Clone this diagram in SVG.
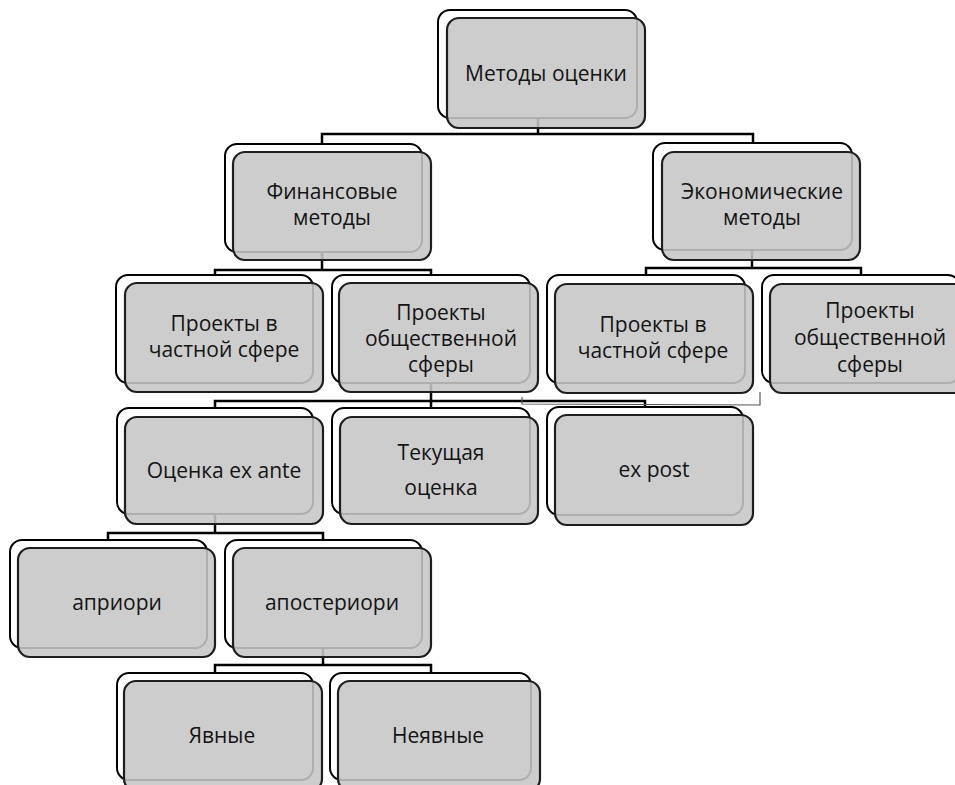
<svg xmlns="http://www.w3.org/2000/svg" width="955" height="785" viewBox="0 0 955 785">
<style>
.bk{fill:#fff;stroke:#000;stroke-width:2}
.fg{fill:#c6c6c6;fill-opacity:0.88;stroke:#1e1e1e;stroke-width:2.2}
.t{font-family:"Open Sans","Noto Sans","DejaVu Sans",sans-serif;font-size:21px;fill:#141414;text-anchor:middle}
.c{fill:none;stroke:#000;stroke-width:2.5}
.thin{fill:none;stroke:#555;stroke-width:1.2}
</style>
<rect width="955" height="785" fill="#fff"/>
<g id="connectors">
<path class="c" d="M538,118V134 M322,144V134H753V143"/>
<path class="c" d="M322,252V270 M215,275V270H431V275"/>
<path class="c" d="M752,250V268 M646,275V268H861V275"/>
<path class="c" d="M431,383V401 M215,408V401H645V408 M431,401V408"/>
<path class="thin" d="M522,397V404L760,405V392"/>
<path class="c" d="M215,514V533 M108,540V533H323V540"/>
<path class="c" d="M323,648V665 M215,673V665H431V673"/>
</g>
<g id="n1"><rect class="bk" x="438" y="10" width="199" height="108" rx="12"/><rect class="fg" x="447" y="18" width="198" height="110" rx="12"/><text class="t" x="546" y="81">Методы оценки</text></g>
<g id="n2"><rect class="bk" x="225" y="144" width="197" height="108" rx="12"/><rect class="fg" x="233" y="152" width="198" height="108" rx="12"/><text class="t" x="332" y="199">Финансовые</text><text class="t" x="332" y="225">методы</text></g>
<g id="n3"><rect class="bk" x="653" y="143" width="199" height="107" rx="12"/><rect class="fg" x="662" y="152" width="198" height="108" rx="12"/><text class="t" x="762" y="199">Экономические</text><text class="t" x="762" y="225">методы</text></g>
<g id="n4"><rect class="bk" x="116" y="275" width="197" height="108" rx="12"/><rect class="fg" x="125" y="283" width="198" height="109" rx="12"/><text class="t" x="224" y="331">Проекты в</text><text class="t" x="224" y="357">частной сфере</text></g>
<g id="n5"><rect class="bk" x="332" y="275" width="198" height="108" rx="12"/><rect class="fg" x="339" y="283" width="199" height="109" rx="12"/><text class="t" x="441" y="320">Проекты</text><text class="t" x="441" y="346">общественной</text><text class="t" x="441" y="372">сферы</text></g>
<g id="n6"><rect class="bk" x="547" y="275" width="198" height="108" rx="12"/><rect class="fg" x="555" y="284" width="198" height="109" rx="12"/><text class="t" x="653" y="332">Проекты в</text><text class="t" x="653" y="358">частной сфере</text></g>
<g id="n7"><rect class="bk" x="762" y="275" width="198" height="108" rx="12"/><rect class="fg" x="770" y="284" width="198" height="109" rx="12"/><text class="t" x="870" y="318">Проекты</text><text class="t" x="870" y="345">общественной</text><text class="t" x="870" y="372">сферы</text></g>
<g id="n8"><rect class="bk" x="117" y="408" width="196" height="106" rx="12"/><rect class="fg" x="125" y="417" width="198" height="107" rx="12"/><text class="t" x="224" y="478">Оценка ex ante</text></g>
<g id="n9"><rect class="bk" x="332" y="408" width="198" height="106" rx="12"/><rect class="fg" x="340" y="417" width="198" height="107" rx="12"/><text class="t" x="441" y="460">Текущая</text><text class="t" x="441" y="495">оценка</text></g>
<g id="n10"><rect class="bk" x="547" y="407" width="196" height="108" rx="12"/><rect class="fg" x="555" y="415" width="198" height="110" rx="12"/><text class="t" x="654" y="477">ex post</text></g>
<g id="n11"><rect class="bk" x="10" y="540" width="197" height="108" rx="12"/><rect class="fg" x="18" y="548" width="197" height="109" rx="12"/><text class="t" x="117" y="610">априори</text></g>
<g id="n12"><rect class="bk" x="225" y="540" width="197" height="108" rx="12"/><rect class="fg" x="233" y="548" width="198" height="109" rx="12"/><text class="t" x="332" y="610">апостериори</text></g>
<g id="n13"><rect class="bk" x="117" y="673" width="196" height="107" rx="12"/><rect class="fg" x="124" y="681" width="198" height="110" rx="12"/><text class="t" x="222" y="743">Явные</text></g>
<g id="n14"><rect class="bk" x="330" y="673" width="201" height="107" rx="12"/><rect class="fg" x="338" y="681" width="202" height="110" rx="12"/><text class="t" x="438" y="743">Неявные</text></g>
</svg>
